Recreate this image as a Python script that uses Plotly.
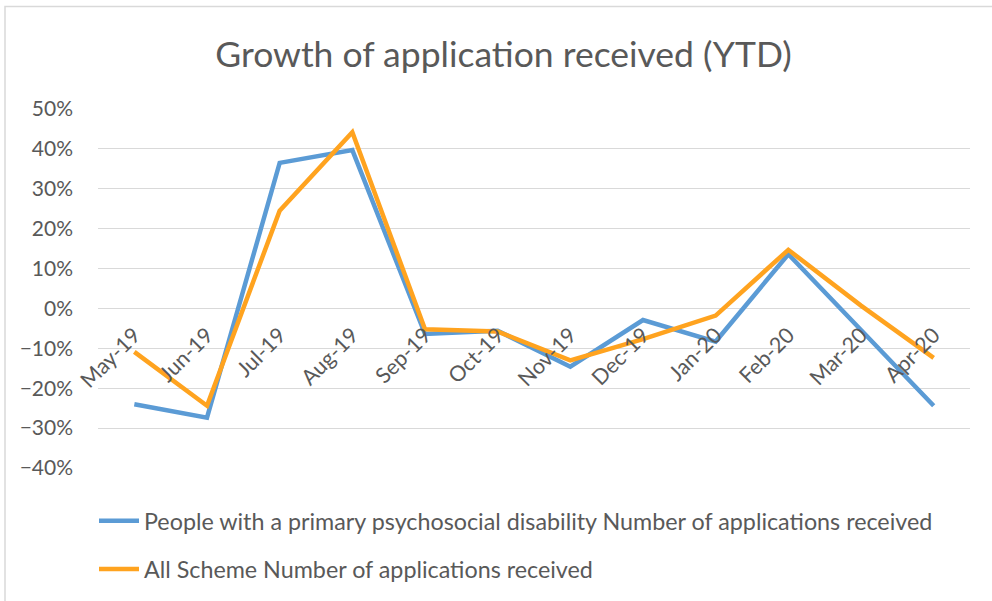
import plotly.graph_objects as go

months = ["May-19", "Jun-19", "Jul-19", "Aug-19", "Sep-19", "Oct-19",
          "Nov-19", "Dec-19", "Jan-20", "Feb-20", "Mar-20", "Apr-20"]
psychosocial = [-0.240, -0.274, 0.365, 0.397, -0.064, -0.056,
                -0.146, -0.029, -0.083, 0.136, -0.054, -0.244]
all_scheme = [-0.109, -0.244, 0.245, 0.442, -0.052, -0.058,
              -0.130, -0.077, -0.018, 0.147, 0.007, -0.124]
name_psy = "People with a primary psychosocial disability Number of applications received"
name_all = "All Scheme Number of applications received"
y_ticks = [-0.4, -0.3, -0.2, -0.1, 0, 0.1, 0.2, 0.3, 0.4, 0.5]

FONT = "Lato"
GREY = "#595959"

fig = go.Figure()
fig.add_trace(go.Scatter(x=months, y=psychosocial, mode="lines", name=name_psy,
                         legendgroup="a",
                         line=dict(color="#5B9BD5", width=4.5)))
fig.add_trace(go.Scatter(x=months, y=all_scheme, mode="lines", name=name_all,
                         legendgroup="b",
                         line=dict(color="#FFA31F", width=4.5)))

W, H = 992, 601
L, R, T, B = 98, 22, 109, 133
ph = H - T - B
pw = W - L - R

def px_x(p):
    return (p - L) / pw

def px_y(p):
    return (H - B - p) / ph

fig.update_layout(
    width=W, height=H,
    margin=dict(l=L, r=R, t=T, b=B, autoexpand=False),
    paper_bgcolor="white", plot_bgcolor="white",
    font=dict(family=FONT, color=GREY, size=21),
    title=dict(text="Growth of application received (YTD)",
               x=503.5 / W, xanchor="center", y=1 - 55 / H, yanchor="middle",
               font=dict(size=35.5, color=GREY, family=FONT)),
    xaxis=dict(type="category", range=[-0.5, len(months) - 0.5],
               showgrid=False, zeroline=False, showline=False,
               anchor="free", position=0.4 / 0.9, tickangle=-45,
               ticklabelstandoff=9,
               ticks="", tickfont=dict(size=21.5, color=GREY)),
    yaxis=dict(range=[-0.4, 0.5], tickvals=y_ticks, tickformat=".0%",
               showgrid=True, gridcolor="#D9D9D9", gridwidth=1.3,
               zeroline=False, showline=False, ticks="",
               ticklabelstandoff=24,
               tickfont=dict(size=21, color=GREY)),
    showlegend=True,
    legend=dict(orientation="v", x=px_x(94), xanchor="left",
                y=px_y(499), yanchor="top", tracegroupgap=15,
                traceorder="grouped",
                font=dict(size=23.3, color=GREY), itemwidth=40,
                bgcolor="rgba(0,0,0,0)"),
    shapes=[dict(type="rect", xref="paper", yref="paper",
                 x0=px_x(5), x1=px_x(1010), y0=px_y(620), y1=px_y(6.5),
                 line=dict(color="#D9D9D9", width=1.5), layer="below")],
)

fig.write_html("out.html",
               config={"displayModeBar": False},
               post_script="document.body.style.margin='0';")
